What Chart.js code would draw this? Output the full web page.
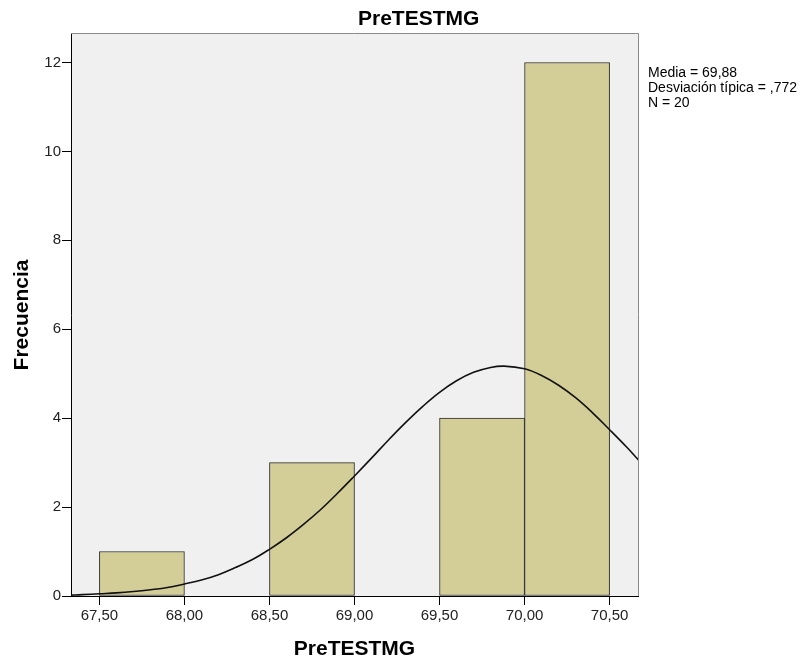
<!DOCTYPE html>
<html>
<head>
<meta charset="utf-8">
<script src="https://cdn.jsdelivr.net/npm/chart.js"></script>
<style>
  html,body{ margin:0; padding:0; background:#fff; }
  #wrap{ width:808px; height:661px; }
</style>
</head>
<body>
<div id="wrap"><canvas id="c" width="808" height="661"></canvas></div>
<script>
// histogram bins (PreTESTMG) and counts
const binStart = [67.5, 68.5, 69.5, 70.0];
const binEnd   = [68.0, 69.0, 70.0, 70.5];
const counts   = [1, 3, 4, 12];

// normal curve (media 69,88, desv. 0,772, N 20)
const curveX = [67.33, 67.4, 67.5, 67.6, 67.7, 67.8, 67.9, 68.0, 68.1, 68.2, 68.3, 68.4, 68.5, 68.6, 68.7, 68.8, 68.9,
                69.0, 69.1, 69.2, 69.3, 69.4, 69.5, 69.6, 69.7, 69.8, 69.88, 70.0, 70.1, 70.2, 70.3, 70.4, 70.5, 70.6, 70.67];
const curveY = [0.02, 0.03, 0.05, 0.07, 0.10, 0.14, 0.19, 0.27, 0.36, 0.48, 0.64, 0.82, 1.05, 1.31, 1.61, 1.94, 2.31,
                2.70, 3.10, 3.51, 3.90, 4.26, 4.58, 4.84, 5.03, 5.14, 5.17, 5.11, 4.96, 4.74, 4.46, 4.12, 3.74, 3.35, 3.06];

const xTicks = [67.5, 68.0, 68.5, 69.0, 69.5, 70.0, 70.5];
const yTicks = [0, 2, 4, 6, 8, 10, 12];
const statLines = ['Media = 69,88', 'Desviación típica = ,772', 'N = 20'];
const chartTitle = 'PreTESTMG';
const xTitle = 'PreTESTMG';
const yTitle = 'Frecuencia';

const FONT = '"Liberation Sans", Arial, sans-serif';

// plot background, frame, titles and stats box
const decor = {
  id:'decor',
  beforeDraw(chart){
    const {ctx, chartArea:a} = chart;
    ctx.save();
    ctx.fillStyle = '#f0f0f0';
    ctx.fillRect(a.left, a.top, a.right - a.left, a.bottom - a.top);
    ctx.restore();
  },
  afterDraw(chart){
    const {ctx, chartArea:a} = chart;
    ctx.save();
    ctx.strokeStyle = '#8a8a8a';
    ctx.lineWidth = 1;
    ctx.beginPath();
    ctx.moveTo(a.left, a.top - 0.5);
    ctx.lineTo(a.right + 0.5, a.top - 0.5);
    ctx.lineTo(a.right + 0.5, a.bottom);
    ctx.stroke();

    ctx.fillStyle = '#000';
    ctx.textBaseline = 'alphabetic';
    ctx.font = 'bold 21px ' + FONT;
    ctx.textAlign = 'left';
    ctx.fillText(chartTitle, 358, 25);
    ctx.textAlign = 'center';
    ctx.fillText(xTitle, (a.left + a.right) / 2, 655);
    ctx.save();
    ctx.translate(28, (a.top + a.bottom) / 2);
    ctx.rotate(-Math.PI / 2);
    ctx.fillText(yTitle, 0, 0);
    ctx.restore();

    ctx.font = '14px ' + FONT;
    ctx.textAlign = 'left';
    statLines.forEach((t, i) => ctx.fillText(t, a.right + 10, 77 + i * 15));
    ctx.restore();
  }
};

const fmt = v => v.toFixed(2).replace('.', ',');

new Chart(document.getElementById('c'), {
  type:'bar',
  data:{
    datasets:[
      {
        type:'line',
        data: curveX.map((x, i) => ({x, y: curveY[i]})),
        borderColor:'#111', borderWidth:1.6,
        pointRadius:0, tension:0.4, fill:false, order:0
      },
      {
        type:'bar',
        data: binStart.map((s, i) => ({x: (s + binEnd[i]) / 2, y: counts[i]})),
        backgroundColor:'#d3ce98', borderColor:'#2a2a2a', borderWidth:1,
        borderSkipped:false, barPercentage:1, categoryPercentage:1, grouped:false, order:1
      }
    ]
  },
  options:{
    responsive:false, animation:false,
    layout:{ padding:{ top:34, right:170, left:0, bottom:0 } },
    plugins:{ legend:{display:false}, tooltip:{enabled:false}, title:{display:false} },
    scales:{
      x:{
        type:'linear', min:67.333, max:70.667, offset:false,
        afterBuildTicks: s => { s.ticks = xTicks.map(v => ({value:v})); },
        afterFit: s => { s.height = 65; },
        grid:{ offset:false, drawOnChartArea:false, drawTicks:true, tickLength:9, color:'#000', lineWidth:1 },
        border:{ display:true, color:'#000', width:1 },
        ticks:{ callback: v => fmt(v), color:'#222', font:{family:FONT, size:15}, padding:2, maxRotation:0, autoSkip:false }
      },
      y:{
        min:0, max:12.64,
        afterBuildTicks: s => { s.ticks = yTicks.map(v => ({value:v})); },
        afterFit: s => { s.width = 71; },
        grid:{ drawOnChartArea:false, drawTicks:true, tickLength:9, color:'#000', lineWidth:1 },
        border:{ display:true, color:'#000', width:1 },
        ticks:{ color:'#222', font:{family:FONT, size:15}, padding:1 }
      }
    }
  },
  plugins:[decor]
});
</script>
</body>
</html>
